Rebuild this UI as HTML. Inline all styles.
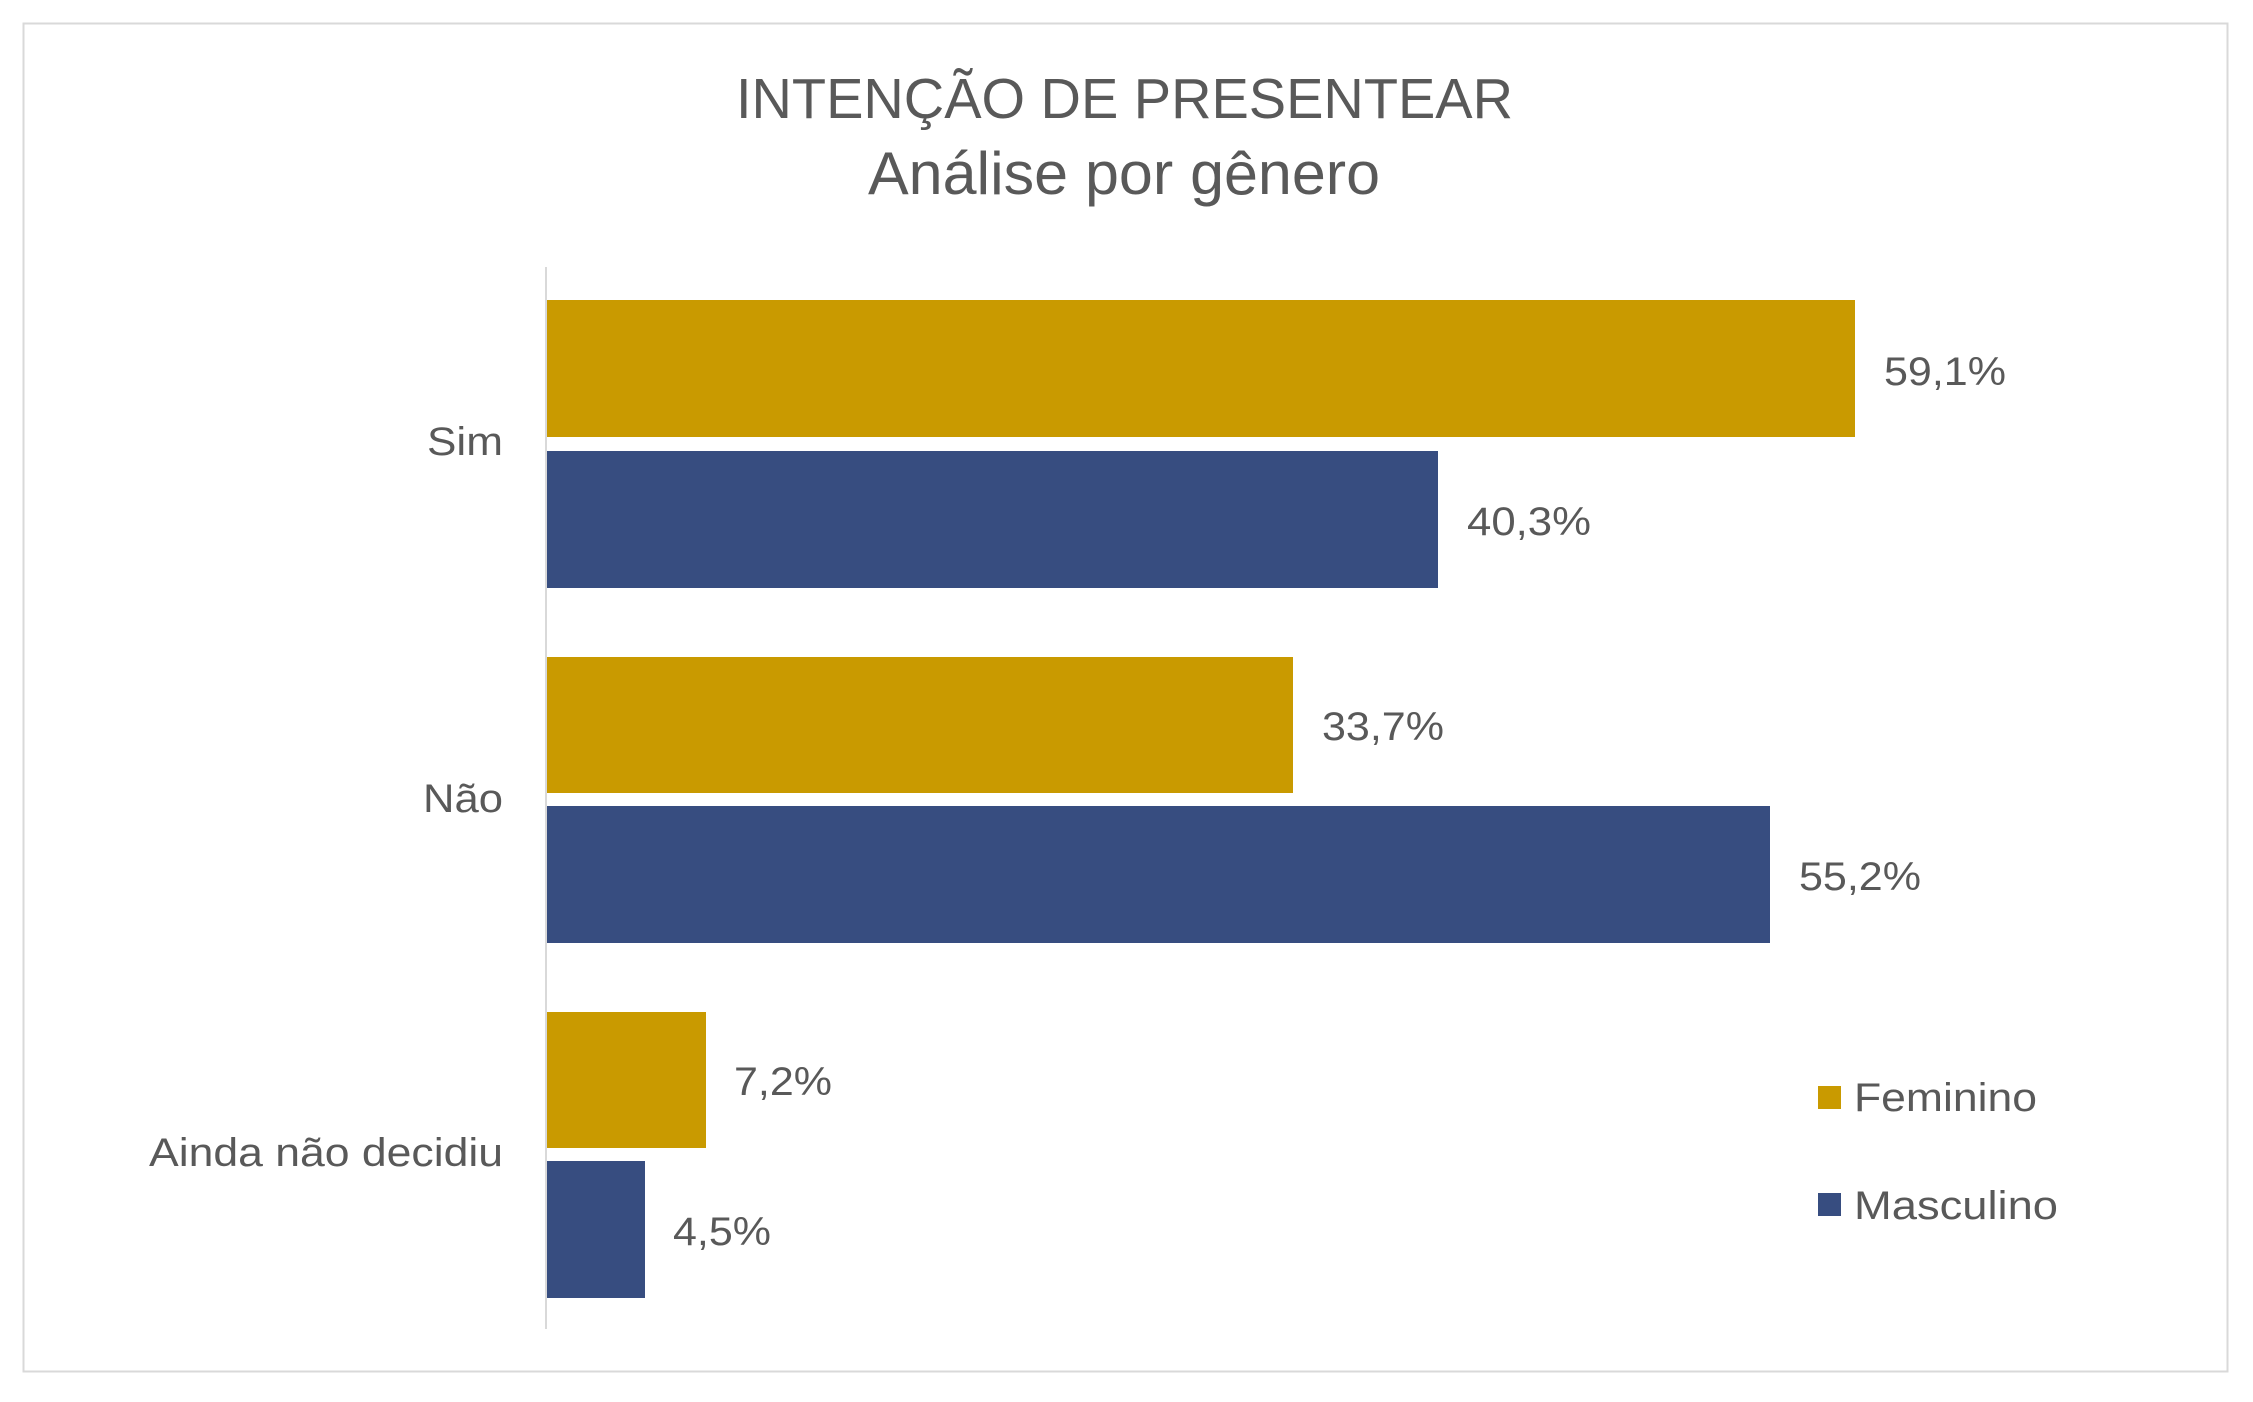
<!DOCTYPE html>
<html><head><meta charset="utf-8"><style>
body{margin:0;background:#fff}
svg text{font-family:"Liberation Sans",sans-serif;fill:#595959}
</style></head><body>
<svg width="2253" height="1397" xmlns="http://www.w3.org/2000/svg">
<rect x="0" y="0" width="2253" height="1397" fill="#fff"/>
<rect x="23.5" y="23.5" width="2204" height="1348" fill="#fff" stroke="#d9d9d9" stroke-width="2"/>
<text x="736" y="118" font-size="57" textLength="777" lengthAdjust="spacingAndGlyphs">INTENÇÃO DE PRESENTEAR</text>
<text x="868" y="194" font-size="60" textLength="512" lengthAdjust="spacingAndGlyphs">Análise por gênero</text>
<line x1="546" y1="267" x2="546" y2="1329" stroke="#d9d9d9" stroke-width="2"/>
<g fill="#C99A00">
<rect x="547" y="300" width="1308" height="137"/>
<rect x="547" y="657" width="746" height="136"/>
<rect x="547" y="1012" width="159" height="136"/>
</g>
<g fill="#374D80">
<rect x="547" y="451" width="891" height="137"/>
<rect x="547" y="806" width="1223" height="137"/>
<rect x="547" y="1161" width="98" height="137"/>
</g>
<g font-size="40" lengthAdjust="spacingAndGlyphs">
<text x="1884" y="385" textLength="122" lengthAdjust="spacingAndGlyphs">59,1%</text>
<text x="1467" y="535" textLength="124" lengthAdjust="spacingAndGlyphs">40,3%</text>
<text x="1322" y="740" textLength="122" lengthAdjust="spacingAndGlyphs">33,7%</text>
<text x="1799" y="890" textLength="122" lengthAdjust="spacingAndGlyphs">55,2%</text>
<text x="734" y="1095" textLength="98" lengthAdjust="spacingAndGlyphs">7,2%</text>
<text x="673" y="1245" textLength="98" lengthAdjust="spacingAndGlyphs">4,5%</text>
<text x="427" y="455" textLength="76" lengthAdjust="spacingAndGlyphs">Sim</text>
<text x="423" y="812" textLength="80" lengthAdjust="spacingAndGlyphs">Não</text>
<text x="149" y="1166" textLength="354" lengthAdjust="spacingAndGlyphs">Ainda não decidiu</text>
<rect x="1818" y="1086" width="23" height="23" fill="#C99A00"/>
<text x="1854" y="1111" textLength="183" lengthAdjust="spacingAndGlyphs">Feminino</text>
<rect x="1818" y="1193" width="23" height="23" fill="#374D80"/>
<text x="1854" y="1219" textLength="204" lengthAdjust="spacingAndGlyphs">Masculino</text>
</g>
</svg>
</body></html>
